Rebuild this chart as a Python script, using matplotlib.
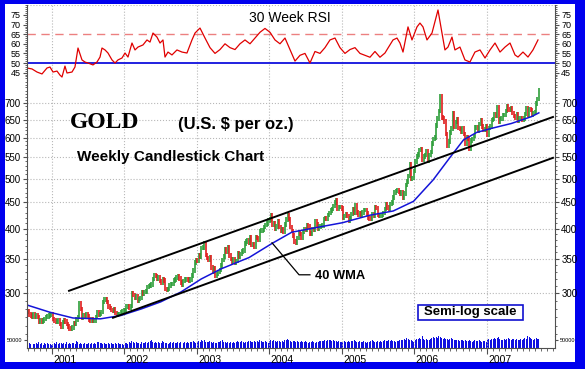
import numpy as np
import pandas as pd
import matplotlib
matplotlib.use("Agg")
import matplotlib.pyplot as plt
import matplotlib.ticker as mticker
import matplotlib.patches as patches
import matplotlib.transforms as mtransforms

plt.rcParams['font.family'] = ['Liberation Sans', 'DejaVu Sans']

# weekly closes, US$ per oz (Friday of each week)
close_2000 = [276, 277, 273, 272, 270, 274, 271, 272, 270, 265, 266, 265, 266, 268, 270,
              271, 272, 273, 274]
close_2001 = [268, 266, 264, 265, 266, 262, 259, 264, 266, 265, 262, 259, 257, 256, 258,
              263, 262, 267, 270, 287, 280, 269, 272, 271, 273, 271, 267, 266, 268, 266,
              266, 270, 276, 273, 274, 276, 289, 292, 293, 289, 283, 281, 279, 278, 280,
              275, 273, 274, 274, 276, 277, 279]
close_2002 = [279, 283, 283, 282, 284, 300, 298, 294, 296, 291, 293, 294, 302, 299, 302,
              303, 309, 310, 311, 312, 320, 326, 324, 321, 322, 317, 315, 320, 318, 306,
              305, 306, 311, 313, 313, 318, 319, 322, 324, 321, 315, 312, 317, 319, 320,
              319, 318, 319, 325, 332, 344, 348]
close_2003 = [347, 355, 354, 367, 368, 375, 356, 351, 349, 353, 337, 330, 335, 325, 327,
              330, 333, 340, 348, 354, 366, 362, 368, 355, 350, 346, 350, 344, 347, 359,
              354, 358, 362, 363, 375, 378, 380, 376, 386, 372, 374, 370, 385, 384, 381,
              396, 397, 398, 403, 407, 410, 415]
close_2004 = [417, 424, 408, 410, 400, 404, 414, 403, 396, 399, 395, 408, 417, 424, 418,
              403, 396, 388, 378, 376, 384, 394, 391, 385, 394, 400, 398, 406, 404, 392,
              391, 399, 398, 413, 408, 401, 404, 405, 406, 418, 420, 418, 425, 429, 434,
              437, 443, 450, 455, 437, 441, 441, 438]
close_2005 = [420, 423, 427, 423, 414, 420, 427, 436, 429, 445, 430, 426, 428, 425, 430,
              435, 435, 428, 421, 419, 418, 426, 424, 440, 439, 425, 423, 423, 425, 429,
              437, 446, 440, 437, 447, 450, 460, 470, 473, 474, 471, 468, 470, 460, 468,
              486, 494, 506, 532, 500, 502, 517]
close_2006 = [540, 552, 557, 568, 569, 545, 552, 556, 565, 541, 556, 563, 584, 596, 600,
              633, 654, 676, 720, 656, 655, 645, 610, 580, 590, 614, 625, 668, 630, 643,
              650, 627, 623, 617, 625, 610, 585, 600, 598, 572, 592, 596, 605, 628, 628,
              618, 638, 648, 630, 621, 622, 632]
close_2007 = [608, 626, 631, 649, 652, 666, 662, 686, 645, 652, 654, 663, 663, 676, 690,
              680, 679, 684, 669, 660, 655, 667, 648, 654, 654, 650, 654, 666, 683, 664,
              680, 679, 663, 670, 672, 698, 712, 742]
first_open = 279

# weekly volume (thousands)
vol_2000 = [28, 22, 30, 25, 34, 27, 22, 31, 26, 35, 24, 29, 21, 33, 27, 30, 23, 26, 20]
vol_2001 = [25, 31, 27, 36, 22, 29, 33, 26, 30, 24, 38, 27, 31, 25, 29, 34, 27, 42, 36, 28,
            30, 24, 27, 33, 22, 26, 30, 25, 29, 24, 31, 27, 35, 40, 33, 29, 26, 31, 24, 28,
            33, 25, 30, 22, 27, 32, 26, 29, 23, 28, 25, 21]
vol_2002 = [30, 34, 28, 37, 33, 45, 38, 31, 35, 29, 33, 27, 36, 30, 34, 38, 32, 36, 41, 47,
            39, 34, 37, 31, 35, 29, 33, 42, 36, 30, 34, 28, 32, 37, 31, 35, 29, 33, 38, 32,
            36, 30, 34, 39, 33, 37, 31, 35, 40, 44, 38, 30]
vol_2003 = [36, 42, 38, 47, 44, 52, 40, 35, 39, 45, 37, 33, 38, 34, 31, 36, 40, 44, 48, 39,
            36, 33, 37, 31, 35, 32, 38, 34, 37, 41, 39, 35, 43, 38, 34, 40, 36, 42, 46, 39,
            35, 41, 37, 44, 40, 47, 42, 38, 36, 41, 37, 33]
vol_2004 = [45, 52, 41, 47, 43, 39, 46, 42, 38, 44, 40, 47, 51, 55, 48, 43, 40, 46, 42, 38,
            44, 40, 36, 42, 39, 35, 41, 37, 33, 39, 36, 42, 38, 34, 40, 37, 43, 46, 41, 45,
            49, 44, 48, 52, 47, 43, 49, 45, 41, 38, 44, 40, 36]
vol_2005 = [38, 44, 40, 36, 42, 39, 45, 41, 48, 44, 40, 37, 43, 39, 35, 41, 38, 34, 40, 37,
            43, 47, 42, 38, 35, 41, 37, 44, 40, 46, 50, 45, 41, 47, 43, 50, 46, 42, 39, 45,
            41, 48, 53, 49, 56, 52, 60, 55, 51, 47, 44, 40]
vol_2006 = [52, 58, 54, 62, 56, 80, 55, 50, 57, 53, 49, 55, 60, 66, 61, 70, 64, 75, 68, 62,
            57, 63, 58, 54, 50, 56, 61, 55, 51, 47, 53, 49, 45, 51, 47, 43, 49, 45, 42, 48,
            44, 40, 46, 50, 45, 41, 47, 43, 39, 45, 41, 38]
vol_2007 = [50, 56, 52, 58, 54, 60, 55, 64, 70, 58, 53, 49, 55, 51, 57, 62, 56, 52, 58, 54,
            50, 56, 52, 48, 54, 50, 57, 63, 58, 80, 66, 60, 55, 51, 57, 62, 58, 54]

# 40 week moving average (decimal year, price)
wma_t = [2000.655, 2000.97, 2001.29, 2001.67, 2001.95, 2002.23, 2002.50, 2002.78, 2003.06,
         2003.34, 2003.72, 2004.04, 2004.31, 2004.64, 2005.01, 2005.39, 2005.71, 2005.99,
         2006.26, 2006.50, 2006.68, 2006.86, 2007.06, 2007.34, 2007.62, 2007.72]
wma_v = [285, 276, 269, 268, 272, 280, 289, 302, 320, 335, 352, 375, 394, 402, 411, 425,
         433, 452, 497, 551, 594, 614, 625, 639, 659, 670]

# 30 week RSI (decimal year, value)
rsi_t = [2000.655, 2000.724, 2000.793, 2000.862, 2000.931, 2000.972, 2001.014, 2001.069,
         2001.110, 2001.138, 2001.179, 2001.207, 2001.276, 2001.317, 2001.359, 2001.414,
         2001.455, 2001.497, 2001.566, 2001.621, 2001.663, 2001.690, 2001.732, 2001.773,
         2001.828, 2001.870, 2001.911, 2001.966, 2002.008, 2002.049, 2002.104, 2002.146,
         2002.187, 2002.256, 2002.311, 2002.353, 2002.394, 2002.449, 2002.491, 2002.532,
         2002.560, 2002.601, 2002.656, 2002.725, 2002.794, 2002.863, 2002.932, 2002.974,
         2003.043, 2003.112, 2003.181, 2003.250, 2003.319, 2003.388, 2003.457, 2003.526,
         2003.595, 2003.664, 2003.733, 2003.802, 2003.871, 2003.940, 2004.009, 2004.078,
         2004.147, 2004.216, 2004.285, 2004.354, 2004.423, 2004.492, 2004.561, 2004.630,
         2004.699, 2004.768, 2004.837, 2004.906, 2004.975, 2005.044, 2005.113, 2005.182,
         2005.251, 2005.320, 2005.389, 2005.458, 2005.527, 2005.596, 2005.638, 2005.707,
         2005.762, 2005.803, 2005.845, 2005.914, 2005.969, 2006.038, 2006.079, 2006.121,
         2006.176, 2006.245, 2006.328, 2006.383, 2006.424, 2006.466, 2006.521, 2006.562,
         2006.631, 2006.700, 2006.769, 2006.838, 2006.908, 2006.977, 2007.046, 2007.115,
         2007.184, 2007.253, 2007.322, 2007.391, 2007.432, 2007.501, 2007.570, 2007.639,
         2007.708]
rsi_v = [47.4, 46.9, 45.3, 44.3, 47.4, 47.9, 45.3, 45.8, 43.7, 42.7, 48.4, 44.8, 45.3, 47.9,
         57.8, 51.6, 50.5, 50.0, 49.0, 50.5, 53.1, 57.8, 56.8, 55.2, 51.6, 50.0, 51.6, 52.6,
         55.2, 53.1, 60.4, 56.8, 58.3, 59.4, 62.0, 60.9, 65.6, 63.5, 60.4, 62.0, 53.1, 55.7,
         54.2, 56.8, 55.7, 55.2, 62.0, 65.6, 68.2, 63.0, 58.0, 55.0, 57.0, 60.0, 58.0, 57.0,
         60.0, 62.0, 60.0, 63.0, 66.0, 68.0, 66.0, 62.0, 60.0, 63.0, 57.0, 51.0, 54.0, 55.0,
         50.0, 56.0, 55.0, 58.0, 62.0, 63.0, 58.0, 55.0, 57.0, 58.0, 55.0, 54.0, 53.0, 56.0,
         53.0, 55.2, 57.8, 62.0, 63.0, 60.4, 55.7, 68.8, 62.0, 68.8, 70.8, 68.8, 62.0, 65.6,
         77.6, 65.6, 56.8, 58.3, 63.5, 56.8, 58.3, 51.6, 50.5, 55.7, 56.8, 52.6, 56.8, 60.4,
         55.7, 58.3, 60.4, 54.2, 53.1, 55.7, 53.1, 56.8, 62.0]

# trend channel and pointer (decimal year, price)
upper_t = [2001.235, 2007.915]
upper_p = [303.6, 657.8]
lower_t = [2001.842, 2007.915]
lower_p = [269.3, 548.5]
ptr_t = [2004.037, 2004.41, 2004.56]
ptr_p = [375.8, 326, 326]

closes = np.array(close_2000 + close_2001 + close_2002 + close_2003 + close_2004 +
                  close_2005 + close_2006 + close_2007, dtype=float)
vols = np.array(vol_2000 + vol_2001 + vol_2002 + vol_2003 + vol_2004 + vol_2005 +
                vol_2006 + vol_2007, dtype=float)
weeks = pd.date_range("2000-08-25", "2007-09-21", freq="W-FRI")
t = np.asarray(weeks.year + (weeks.dayofyear - 1) / np.where(weeks.is_leap_year, 366, 365))
opens = np.concatenate([[first_open], closes[:-1]])

W, H = 585, 369
fig = plt.figure(figsize=(W / 100, H / 100), dpi=100)
fig.patch.set_facecolor('#0000EE')
fig.add_artist(patches.Rectangle((5 / W, 1 - 362 / H), 570 / W, 358 / H,
                                 transform=fig.transFigure, facecolor='white',
                                 edgecolor='none', zorder=-1))

L, AW = 27 / W, 528 / W
ax_r = fig.add_axes([L, 1 - 80 / H, AW, 75 / H])
ax_p = fig.add_axes([L, 1 - 336 / H, AW, 256 / H], sharex=ax_r)
ax_v = fig.add_axes([L, 1 - 348 / H, AW, 12 / H], sharex=ax_r)

grid_kw = dict(color='#B8B8B8', linestyle=':', linewidth=0.8)
for ax in (ax_r, ax_p, ax_v):
    ax.set_facecolor('none')
    ax.spines['top'].set_visible(False)
    ax.spines['bottom'].set_visible(False)
    for s in ('left', 'right'):
        ax.spines[s].set_color('#505050')
        ax.spines[s].set_linewidth(0.8)
    ax.tick_params(axis='y', which='both', left=True, right=True, labelleft=True,
                   labelright=True, direction='out', labelsize=7, pad=1.5,
                   color='#505050')
    ax.tick_params(axis='y', which='major', length=3)
    ax.tick_params(axis='y', which='minor', length=1.5)
    ax.tick_params(axis='x', which='both', bottom=False, labelbottom=False)
    ax.grid(axis='x', which='major', **grid_kw)

ax_r.set_xlim(2000.655, 2007.943)
ax_r.xaxis.set_major_locator(mticker.FixedLocator(range(2001, 2008)))
ax_r.xaxis.set_minor_locator(mticker.FixedLocator(np.arange(2000 + 8 / 12, 2008, 1 / 12)))

# RSI panel
ax_r.set_ylim(41.15, 80.2)
ax_r.yaxis.set_major_locator(mticker.FixedLocator([45, 50, 55, 60, 65, 70, 75]))
ax_r.yaxis.set_minor_locator(mticker.MultipleLocator(1))
ax_r.tick_params(axis='y', labelsize=6.5)
ax_r.axhline(80, **grid_kw)
ax_r.axhline(65, color='#EC8080', linestyle=(0, (6, 4)), linewidth=1.0)
ax_r.axhline(50, color='#2020E0', linewidth=1.4)
ax_r.plot(rsi_t, rsi_v, color='#E00000', linewidth=0.9)
ax_r.text(0.498, 0.83, '30 Week RSI', transform=ax_r.transAxes, ha='center',
          va='center', fontsize=10)

# price panel
ax_p.set_yscale('log')
ax_p.set_ylim(248.3, 775.4)
ax_p.yaxis.set_major_locator(mticker.FixedLocator([300, 350, 400, 450, 500, 550, 600, 650, 700]))
ax_p.yaxis.set_major_formatter(mticker.StrMethodFormatter('{x:.0f}'))
ax_p.yaxis.set_minor_locator(mticker.FixedLocator(range(250, 780, 10)))
ax_p.yaxis.set_minor_formatter(mticker.NullFormatter())
ax_p.grid(axis='y', which='major', **grid_kw)

green, red = '#2E9E3A', '#E01E1E'
col = np.where(closes >= opens, green, red)
lo = np.minimum(opens, closes) * 0.99
hi = np.maximum(opens, closes) * 1.01
ax_p.vlines(t, lo, hi, colors=col, linewidth=1.2)
ax_p.plot(wma_t, wma_v, color='#1414D8', linewidth=1.1)
ax_p.plot(upper_t, upper_p, color='black', linewidth=1.4)
ax_p.plot(lower_t, lower_p, color='black', linewidth=1.4)
ax_p.plot(ptr_t, ptr_p, color='black', linewidth=0.9)

# volume panel
ax_v.set_ylim(0, 75)
ax_v.bar(t, vols, width=5 / 365.25, color='#1010E0', linewidth=0)
ax_v.yaxis.set_major_locator(mticker.FixedLocator([50]))
ax_v.yaxis.set_major_formatter(mticker.FixedFormatter(['50000']))
ax_v.yaxis.set_minor_locator(mticker.NullLocator())
ax_v.tick_params(axis='y', labelsize=4, length=2)
ax_v.spines['bottom'].set_visible(True)
ax_v.spines['bottom'].set_color('#505050')
ax_v.tick_params(axis='x', which='both', bottom=True, labelbottom=True, direction='out',
                 color='#505050', labelsize=7.5, pad=1)
ax_v.tick_params(axis='x', which='major', length=4)
ax_v.tick_params(axis='x', which='minor', length=2.5)
ax_v.xaxis.set_major_formatter(mticker.StrMethodFormatter('{x:.0f}'))
shift = mtransforms.ScaledTranslation(1 / 72, 0, fig.dpi_scale_trans)
for lab in ax_v.get_xticklabels():
    lab.set_horizontalalignment('left')
    lab.set_transform(lab.get_transform() + shift)

# annotations
def fx(px):
    return px / W

def fy(py):
    return 1 - py / H

fig.text(fx(105), fy(122), 'GOLD', family=['Liberation Serif', 'DejaVu Serif'],
         fontweight='bold', fontsize=17, ha='center', va='center')
fig.text(fx(236), fy(124), '(U.S. $ per oz.)', fontweight='bold', fontsize=12,
         ha='center', va='center')
fig.text(fx(171), fy(157), 'Weekly Candlestick Chart', fontweight='bold', fontsize=11,
         ha='center', va='center')
fig.text(fx(315), fy(276), '40 WMA', fontweight='bold', fontsize=9.3, ha='left',
         va='center')
fig.add_artist(patches.Rectangle((fx(418), fy(320)), (523 - 418) / W, 15 / H,
                                 transform=fig.transFigure, facecolor='white',
                                 edgecolor='#1010D0', linewidth=1.2))
fig.text(fx(470.5), fy(312.5), 'Semi-log scale', fontweight='bold', fontsize=9.5,
         ha='center', va='center')

fig.savefig('out.png', dpi=100, facecolor=fig.get_facecolor())
